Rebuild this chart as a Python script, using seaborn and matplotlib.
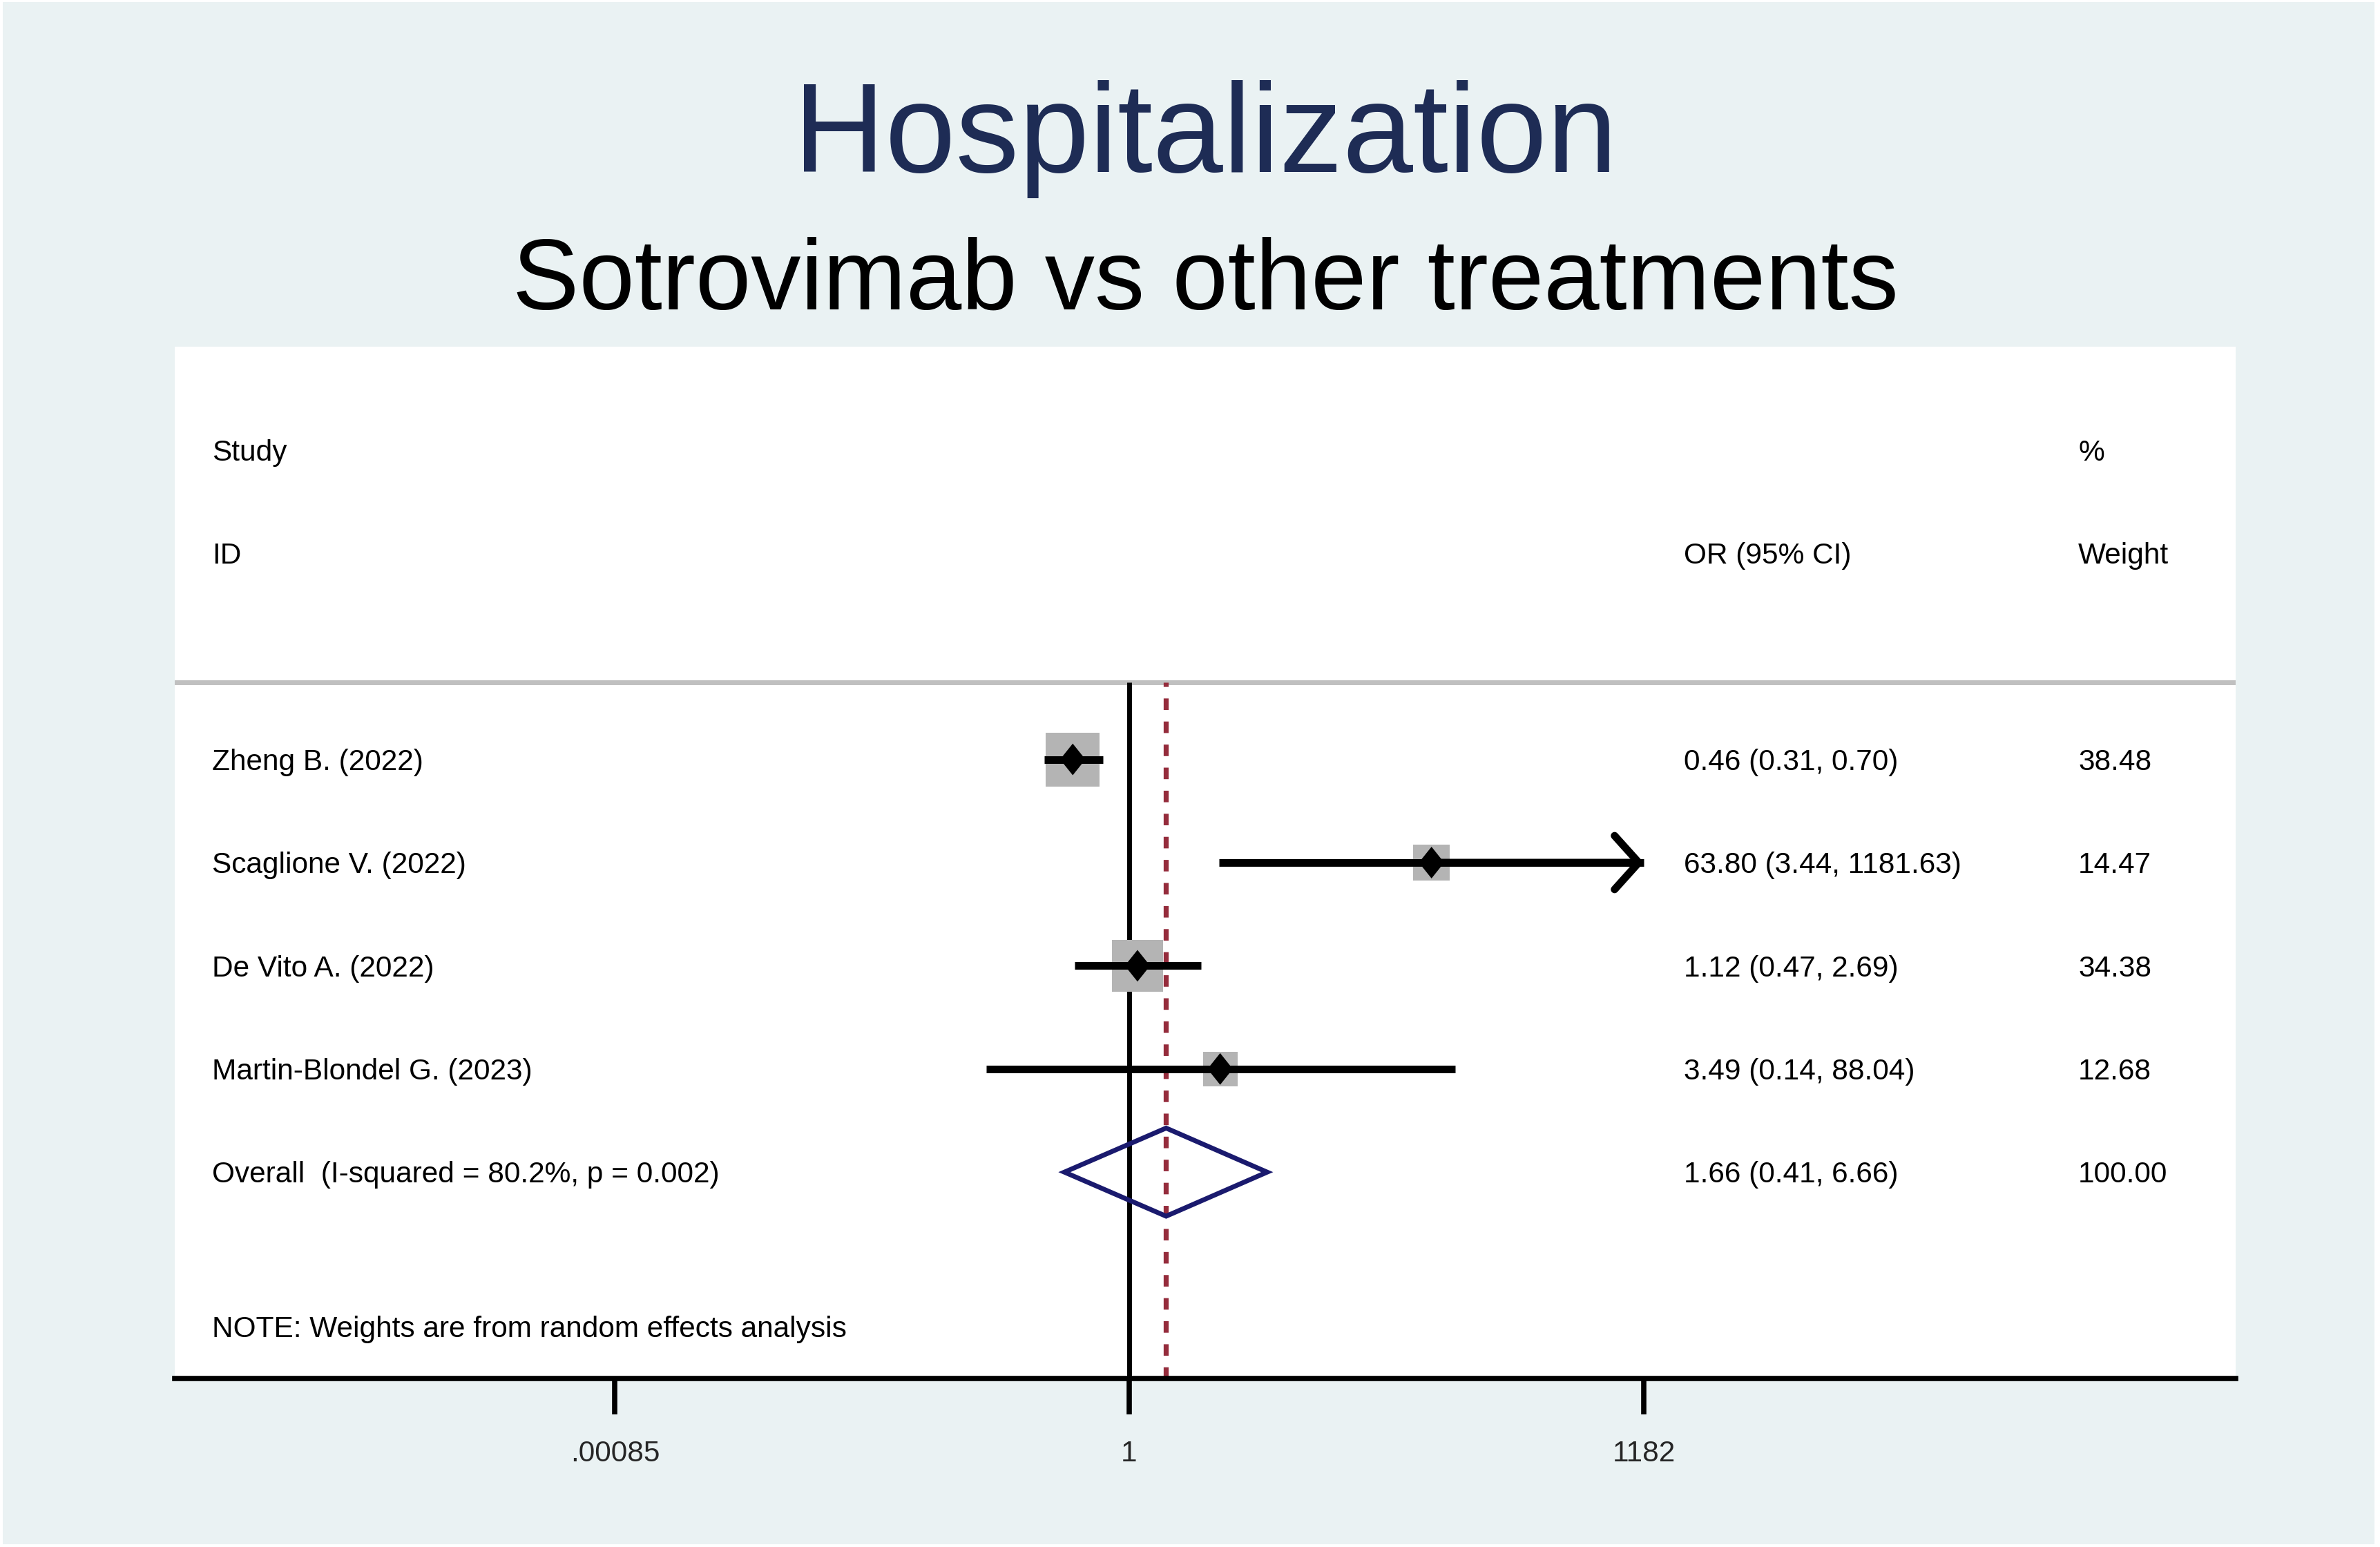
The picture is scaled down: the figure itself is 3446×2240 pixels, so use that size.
import numpy as np
import pandas as pd
import matplotlib
matplotlib.use("Agg")
import matplotlib.pyplot as plt
import matplotlib.transforms as mtransforms
from matplotlib.patches import Rectangle
import seaborn as sns

# data
studies = ["Zheng B. (2022)", "Scaglione V. (2022)", "De Vito A. (2022)",
           "Martin-Blondel G. (2023)"]
odds = [0.46, 63.80, 1.12, 3.49]
ci_low = [0.31, 3.44, 0.47, 0.14]
ci_high = [0.70, 1181.63, 2.69, 88.04]
weights = [38.48, 14.47, 34.38, 12.68]
or_text = ["0.46 (0.31, 0.70)", "63.80 (3.44, 1181.63)", "1.12 (0.47, 2.69)",
           "3.49 (0.14, 88.04)"]
weight_text = ["38.48", "14.47", "34.38", "12.68"]

overall_label = "Overall  (I-squared = 80.2%, p = 0.002)"
overall_or = 1.66
overall_low = 0.41
overall_high = 6.66
overall_text = "1.66 (0.41, 6.66)"
overall_weight = "100.00"

tick_values = [0.00085, 1, 1182]
tick_labels = [".00085", "1", "1182"]

note = "NOTE: Weights are from random effects analysis"

W, H = 3446, 2240
BG = "#EAF2F3"
NAVY_TITLE = "#1E2C55"
GRAY_BOX = "#B4B4B4"
DASH = "#952C3C"
DIAMOND = "#1A1A6E"
FS = 30.5

sns.set_style("white")
plt.rcParams["font.family"] = ["Liberation Sans", "DejaVu Sans"]

df = pd.DataFrame({
    "study": studies, "or_": odds, "lo": ci_low, "hi": ci_high,
    "weight": weights, "row": [6, 5, 4, 3],
})

fig = plt.figure(figsize=(W / 100, H / 100), dpi=100)
fig.patch.set_facecolor("white")
fig.patches.append(Rectangle((4 / W, 4 / H), (W - 12) / W, (H - 7) / H,
                             transform=fig.transFigure, facecolor=BG,
                             edgecolor="none", zorder=-10))

ax = fig.add_axes([253 / W, (H - 1996) / H, (3237 - 253) / W, (1996 - 502) / H])
ax.set_facecolor("white")
ax.set_xscale("log")
ax.set_xlim(10 ** -5.699, 10 ** 6.606)
ax.set_ylim(0, 10)

header_y = 6.75
ax.axhline(header_y, color="#C0C0C0", lw=5, zorder=1)

# null line and overall effect line
ax.plot([1, 1], [0, header_y], color="black", lw=5, zorder=1,
        solid_capstyle="butt")
ax.plot([overall_or, overall_or], [0, header_y], color=DASH, lw=5.25,
        ls=(0, (2.29, 2.29)), dash_capstyle="butt", zorder=2.5)

# weight boxes
side_pt = {w: (12.3 + 10.6 * np.sqrt(w)) / (100 / 72) for w in weights}
sns.scatterplot(data=df, x="or_", y="row", size="weight",
                sizes={w: s ** 2 for w, s in side_pt.items()},
                marker="s", color=GRAY_BOX, linewidth=0, edgecolor="none",
                legend=False, ax=ax, zorder=2)

# confidence intervals
axis_max = tick_values[-1]
for _, r in df.iterrows():
    ax.plot([r.lo, r.hi], [r.row, r.row], color="black", lw=7.9,
            solid_capstyle="butt", zorder=3)
    if r.hi >= 0.999 * axis_max:
        ax.annotate("", xy=(r.hi, r.row), xytext=(r.or_, r.row),
                    arrowprops=dict(arrowstyle="->, head_length=2.52, head_width=2.8",
                                    mutation_scale=10, lw=7.9, color="black",
                                    shrinkA=0, shrinkB=0, joinstyle="miter"),
                    zorder=3)

diamond_marker = np.array([[0, 1], [0.8, 0], [0, -1], [-0.8, 0], [0, 1]])
sns.scatterplot(data=df, x="or_", y="row", marker=diamond_marker, s=33 ** 2,
                color="black", linewidth=0, edgecolor="none", legend=False,
                ax=ax, zorder=4)

# overall diamond
h = 0.427
ax.fill([overall_low, overall_or, overall_high, overall_or],
        [2, 2 + h, 2, 2 - h], facecolor="none", edgecolor=DIAMOND, lw=5,
        joinstyle="miter", zorder=3)

# axis styling
for s in ["top", "left", "right"]:
    ax.spines[s].set_visible(False)
ax.spines["bottom"].set_linewidth(5.5)
ax.spines["bottom"].set_color("black")
ax.set_xticks(tick_values)
ax.set_xticklabels(tick_labels)
ax.xaxis.set_minor_locator(matplotlib.ticker.NullLocator())
ax.tick_params(axis="x", which="major", bottom=True, direction="out",
               length=37.4, width=5.5, color="black", pad=27, labelsize=FS)
ax.tick_params(axis="y", left=False, labelleft=False)
ax.set_xlabel("")
ax.set_ylabel("")

# text columns (baseline shifted so that caps are centred on the row)
off = mtransforms.ScaledTranslation(0, -0.716 * FS / 2 / 72, fig.dpi_scale_trans)
tr = mtransforms.blended_transform_factory(ax.transAxes, ax.transData) + off
col_study, col_or, col_w = 0.0181, 0.7322, 0.9236


def put(x, y, s):
    ax.text(x, y, s, transform=tr, fontsize=FS, ha="left", va="baseline",
            color="black")


put(col_study, 9, "Study")
put(col_study, 8, "ID")
put(col_or, 8, "OR (95% CI)")
put(col_w, 9, "%")
put(col_w, 8, "Weight")
for i, r in df.iterrows():
    put(col_study, r.row, r.study)
    put(col_or, r.row, or_text[i])
    put(col_w, r.row, weight_text[i])
put(col_study, 2, overall_label)
put(col_or, 2, overall_text)
put(col_w, 2, overall_weight)
put(col_study, 0.5, note)

cx = (253 + 3237) / 2 / W
fig.text(cx, (H - 249) / H, "Hospitalization", ha="center", va="baseline",
         fontsize=132, color=NAVY_TITLE)
fig.text(cx, (H - 448) / H, "Sotrovimab vs other treatments", ha="center",
         va="baseline", fontsize=104, color="black")

fig.savefig("out.png", dpi=100, facecolor=fig.get_facecolor())
plt.close(fig)
